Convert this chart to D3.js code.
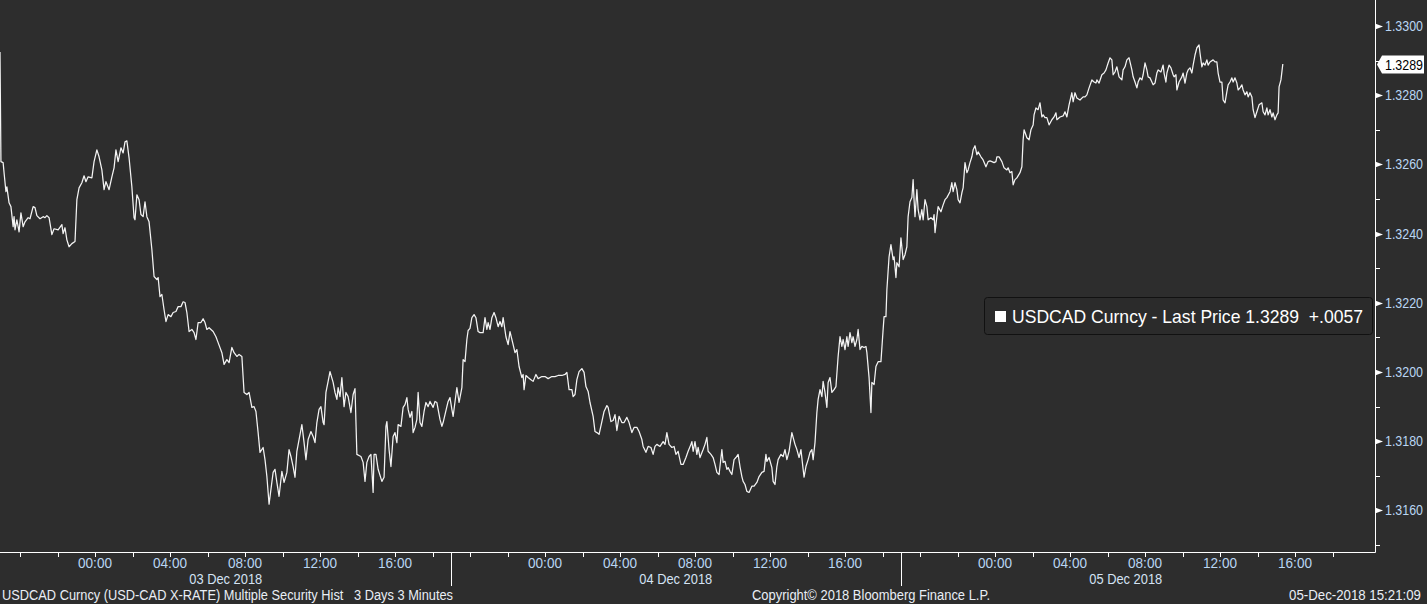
<!DOCTYPE html>
<html><head><meta charset="utf-8">
<script src="https://cdn.jsdelivr.net/npm/d3@7"></script>
<style>html,body{margin:0;padding:0;background:#2d2d2d;overflow:hidden}</style>
</head><body><svg id="c" width="1427" height="604"></svg>
<script>
// [minutes from 03 Dec 2018 00:00, USDCAD last price] — 3-minute bars
const dec3Session = [
[-304,1.32925],[-301,1.32608],[-294,1.32605],[-291,1.32576],[-285,1.32521],[-282,1.32535],[-275,1.32489],[-269,1.32478],
[-262,1.32420],[-259,1.32449],[-256,1.32411],[-250,1.32440],[-243,1.32405],[-237,1.32460],[-230,1.32420],[-224,1.32434],
[-214,1.32446],[-208,1.32443],[-198,1.32478],[-192,1.32475],[-186,1.32452],[-176,1.32443],[-166,1.32449],[-160,1.32446],
[-154,1.32452],[-147,1.32446],[-138,1.32397],[-131,1.32414],[-118,1.32411],[-106,1.32426],[-102,1.32400],[-96,1.32417],
[-90,1.32382],[-83,1.32362],[-74,1.32371],[-64,1.32377],[-58,1.32498],[-51,1.32532],[-42,1.32547],[-35,1.32567],
[-29,1.32550],[-22,1.32564],[-10,1.32561],[-3,1.32608],[6,1.32642],[13,1.32622],[22,1.32584],[29,1.32527],
[35,1.32550],[45,1.32527],[54,1.32564],[61,1.32590],[67,1.32642],[74,1.32608],[83,1.32648],[90,1.32633],
[96,1.32665],[102,1.32668],[109,1.32619],[118,1.32535],[125,1.32446],[128,1.32440],[134,1.32512],[141,1.32498],
[147,1.32455],[154,1.32449],[160,1.32492],[166,1.32449],[173,1.32434],[182,1.32354],[189,1.32276],[198,1.32267],
[202,1.32273],[208,1.32218],[214,1.32224],[221,1.32180],[227,1.32146],[234,1.32166],[243,1.32160],[250,1.32172],
[259,1.32175],[266,1.32189],[275,1.32189],[282,1.32203],[288,1.32201],[294,1.32172],[301,1.32117],[310,1.32123],
[317,1.32114],[323,1.32094],[330,1.32143],[339,1.32143],[346,1.32154],[352,1.32143],[358,1.32123],[365,1.32128],
[378,1.32117],[387,1.32102],[394,1.32085],[406,1.32056],[413,1.32022],[422,1.32036],[429,1.32027],[438,1.32071],
[445,1.32056],[454,1.32045],[461,1.32051],[470,1.32045],[477,1.31941],[486,1.31935],[493,1.31941],[502,1.31898],
[509,1.31900],[515,1.31886],[522,1.31825],[528,1.31768],[538,1.31782],[544,1.31747],[550,1.31698],[557,1.31618],
[563,1.31661],[570,1.31710],[576,1.31719],[582,1.31681],[589,1.31641],[598,1.31713],[605,1.31681],[614,1.31710],
[621,1.31776],[627,1.31756],[634,1.31727],[640,1.31696],[646,1.31771],[653,1.31805],[662,1.31848],[669,1.31796],
[675,1.31747],[682,1.31805],[691,1.31828],[698,1.31814],[704,1.31796],[710,1.31854],[717,1.31892],[723,1.31900],
[730,1.31854],[733,1.31848],[739,1.31941],[746,1.31973],[752,1.32001],[762,1.31970],[768,1.31941],[774,1.31921],
[778,1.31955],[784,1.31929],[790,1.31984],[797,1.31900],[803,1.31941],[810,1.31929],[819,1.31883],[826,1.31935],
[832,1.31952],[838,1.31762],[851,1.31756],[858,1.31739],[864,1.31684],[870,1.31739],[877,1.31756],[883,1.31762],
[890,1.31652],[893,1.31762],[899,1.31762],[906,1.31719],[918,1.31684],[925,1.31696],[931,1.31843],[934,1.31857],
[941,1.31776],[947,1.31727],[954,1.31814],[960,1.31825],[966,1.31796],[970,1.31848],[979,1.31843],[986,1.31898],
[992,1.31906],[998,1.31926],[1002,1.31892],[1008,1.31869],[1014,1.31886],[1018,1.31825],[1024,1.31840],[1030,1.31863],
[1034,1.31941],[1040,1.31854],[1046,1.31843],[1053,1.31886],[1059,1.31912],[1066,1.31900],[1072,1.31915],[1082,1.31898],
[1088,1.31915],[1094,1.31912],[1098,1.31892],[1104,1.31863],[1110,1.31843],[1114,1.31854],[1120,1.31877],[1126,1.31900],
[1130,1.31915],[1136,1.31926],[1142,1.31892],[1146,1.31872]
];
const dec4Session = [
[1155,1.31935],[1158,1.31955],[1165,1.31912],[1174,1.31955],[1178,1.32036],[1184,1.32030],[1190,1.32094],[1194,1.32120],
[1200,1.32126],[1206,1.32157],[1213,1.32166],[1219,1.32157],[1226,1.32117],[1232,1.32114],[1242,1.32114],[1248,1.32157],
[1254,1.32123],[1258,1.32143],[1264,1.32123],[1270,1.32157],[1277,1.32172],[1283,1.32157],[1290,1.32131],[1296,1.32146],
[1302,1.32131],[1306,1.32157],[1315,1.32102],[1322,1.32079],[1328,1.32117],[1338,1.32079],[1344,1.32056],[1350,1.32065],
[1357,1.32016],[1366,1.31984],[1370,1.31993],[1373,1.31949],[1379,1.31990],[1386,1.31984],[1395,1.31978],[1402,1.31973],
[1411,1.31993],[1418,1.31981],[1430,1.31987],[1440,1.31987],[1450,1.31981],[1462,1.31987],[1472,1.31987],[1482,1.31990],
[1494,1.31990],[1504,1.31993],[1510,1.31999],[1517,1.31949],[1526,1.31949],[1530,1.31929],[1536,1.31935],[1542,1.31978],
[1549,1.32001],[1558,1.32010],[1565,1.31999],[1571,1.31958],[1578,1.31944],[1584,1.31912],[1594,1.31872],[1600,1.31828],
[1606,1.31825],[1613,1.31820],[1622,1.31857],[1629,1.31886],[1638,1.31903],[1642,1.31898],[1651,1.31857],[1658,1.31860],
[1664,1.31877],[1670,1.31831],[1677,1.31872],[1686,1.31854],[1693,1.31854],[1702,1.31869],[1709,1.31854],[1718,1.31825],
[1725,1.31840],[1734,1.31840],[1741,1.31828],[1750,1.31805],[1754,1.31785],[1763,1.31768],[1770,1.31785],[1779,1.31782],
[1786,1.31762],[1792,1.31785],[1798,1.31791],[1808,1.31785],[1818,1.31799],[1824,1.31791],[1830,1.31825],[1837,1.31791],
[1846,1.31782],[1853,1.31785],[1859,1.31762],[1866,1.31771],[1875,1.31733],[1882,1.31733],[1891,1.31753],[1898,1.31771],
[1907,1.31791],[1910,1.31799],[1914,1.31771],[1920,1.31799],[1926,1.31762],[1930,1.31782],[1936,1.31753],[1946,1.31776],
[1952,1.31791],[1958,1.31811],[1962,1.31771],[1971,1.31762],[1978,1.31753],[1984,1.31733],[1990,1.31710],[1997,1.31704],
[2006,1.31776],[2010,1.31739],[2016,1.31742],[2022,1.31719],[2026,1.31724],[2032,1.31713],[2038,1.31704],[2045,1.31747],
[2051,1.31753],[2058,1.31762],[2064,1.31727],[2070,1.31698],[2074,1.31684],[2080,1.31675],[2086,1.31655],[2093,1.31652],
[2102,1.31670],[2109,1.31670],[2118,1.31681],[2125,1.31698],[2134,1.31710],[2141,1.31713],[2147,1.31762],[2150,1.31742],
[2157,1.31753],[2166,1.31724],[2170,1.31684],[2176,1.31675],[2182,1.31727],[2186,1.31747],[2195,1.31762],[2202,1.31756],
[2208,1.31776],[2214,1.31747],[2221,1.31771],[2230,1.31825],[2234,1.31811],[2240,1.31791],[2246,1.31776],[2253,1.31753],
[2259,1.31776],[2266,1.31719],[2269,1.31696],[2275,1.31727],[2282,1.31747],[2288,1.31768],[2294,1.31776],[2298,1.31747],
[2304,1.31796],[2310,1.31883],[2314,1.31921],[2320,1.31949],[2326,1.31929],[2330,1.31973],[2336,1.31941],[2342,1.31898],
[2346,1.31970],[2352,1.31984],[2358,1.31941],[2365,1.31949],[2371,1.31958],[2378,1.32045],[2384,1.32102],[2390,1.32074],
[2394,1.32094],[2400,1.32065],[2406,1.32102],[2410,1.32074],[2416,1.32114],[2422,1.32085],[2426,1.32102],[2432,1.32074],
[2438,1.32094],[2442,1.32123],[2448,1.32065],[2454,1.32074],[2461,1.32071],[2467,1.32074],[2470,1.32056],[2477,1.31984],
[2483,1.31883],[2486,1.31970],[2493,1.31964],[2499,1.32016],[2506,1.32030],[2515,1.32030],[2522,1.32123],[2525,1.32160],
[2531,1.32160],[2534,1.32238],[2541,1.32333],[2547,1.32368],[2554,1.32325],[2557,1.32333],[2563,1.32273],[2566,1.32316],
[2573,1.32304],[2579,1.32388]
];
const dec5Session = [
[2586,1.32325],[2592,1.32339],[2598,1.32362],[2602,1.32449],[2608,1.32492],[2614,1.32504],[2618,1.32556],[2621,1.32498],
[2624,1.32449],[2630,1.32527],[2634,1.32469],[2640,1.32440],[2646,1.32469],[2650,1.32440],[2656,1.32498],[2662,1.32478],
[2666,1.32440],[2675,1.32446],[2682,1.32440],[2685,1.32455],[2688,1.32403],[2694,1.32449],[2698,1.32478],[2707,1.32463],
[2714,1.32483],[2720,1.32498],[2726,1.32504],[2736,1.32521],[2742,1.32547],[2746,1.32521],[2752,1.32547],[2758,1.32527],
[2762,1.32498],[2768,1.32489],[2774,1.32518],[2778,1.32532],[2784,1.32605],[2790,1.32576],[2794,1.32584],[2800,1.32605],
[2806,1.32622],[2810,1.32642],[2816,1.32654],[2822,1.32628],[2826,1.32636],[2835,1.32622],[2842,1.32613],[2851,1.32593],
[2858,1.32608],[2864,1.32610],[2870,1.32608],[2877,1.32605],[2883,1.32608],[2886,1.32622],[2893,1.32622],[2902,1.32608],
[2909,1.32590],[2918,1.32584],[2922,1.32590],[2928,1.32576],[2934,1.32579],[2938,1.32541],[2944,1.32556],[2950,1.32561],
[2960,1.32576],[2966,1.32593],[2970,1.32671],[2973,1.32700],[2979,1.32685],[2982,1.32677],[2989,1.32671],[2995,1.32700],
[3002,1.32714],[3005,1.32743],[3011,1.32763],[3018,1.32758],[3024,1.32778],[3030,1.32737],[3034,1.32743],[3040,1.32735],
[3046,1.32735],[3053,1.32714],[3062,1.32729],[3069,1.32737],[3075,1.32749],[3078,1.32729],[3088,1.32737],[3098,1.32740],
[3104,1.32752],[3110,1.32737],[3117,1.32772],[3126,1.32807],[3130,1.32781],[3136,1.32807],[3142,1.32792],[3152,1.32786],
[3162,1.32795],[3168,1.32795],[3174,1.32801],[3181,1.32821],[3190,1.32844],[3197,1.32838],[3203,1.32835],[3206,1.32844],
[3213,1.32835],[3222,1.32859],[3229,1.32864],[3235,1.32873],[3242,1.32893],[3248,1.32908],[3254,1.32902],[3258,1.32859],
[3264,1.32867],[3270,1.32882],[3277,1.32853],[3286,1.32844],[3290,1.32873],[3296,1.32882],[3302,1.32902],[3309,1.32908],
[3318,1.32873],[3322,1.32853],[3328,1.32838],[3334,1.32821],[3338,1.32838],[3344,1.32850],[3350,1.32844],[3354,1.32859],
[3360,1.32893],[3366,1.32873],[3370,1.32853],[3376,1.32850],[3382,1.32838],[3386,1.32830],[3392,1.32835],[3398,1.32864],
[3402,1.32873],[3411,1.32867],[3418,1.32887],[3421,1.32864],[3427,1.32838],[3430,1.32864],[3437,1.32887],[3443,1.32879],
[3450,1.32859],[3453,1.32853],[3459,1.32859],[3462,1.32815],[3469,1.32838],[3478,1.32853],[3482,1.32864],[3488,1.32835],
[3494,1.32864],[3498,1.32873],[3504,1.32879],[3510,1.32864],[3514,1.32887],[3520,1.32916],[3526,1.32937],[3533,1.32945],
[3536,1.32922],[3542,1.32882],[3546,1.32893],[3552,1.32887],[3558,1.32902],[3562,1.32887],[3568,1.32896],[3578,1.32902],
[3584,1.32896],[3590,1.32896],[3594,1.32864],[3600,1.32838],[3606,1.32838],[3610,1.32786],[3616,1.32778],[3622,1.32810],
[3626,1.32830],[3632,1.32838],[3638,1.32850],[3642,1.32838],[3648,1.32850],[3654,1.32835],[3658,1.32815],[3664,1.32821],
[3670,1.32830],[3674,1.32815],[3680,1.32801],[3686,1.32810],[3690,1.32795],[3696,1.32807],[3702,1.32795],[3706,1.32758],
[3712,1.32735],[3718,1.32752],[3725,1.32772],[3734,1.32778],[3738,1.32752],[3744,1.32743],[3750,1.32763],[3754,1.32743],
[3760,1.32758],[3766,1.32737],[3770,1.32749],[3776,1.32729],[3782,1.32743],[3786,1.32749],[3789,1.32824],[3795,1.32844],
[3801,1.32890]
];

const priceTicks = [1.3160, 1.3180, 1.3200, 1.3220, 1.3240, 1.3260, 1.3280, 1.3300];
const minorPriceTicks = [1.3150, 1.3170, 1.3190, 1.3210, 1.3230, 1.3250, 1.3270, 1.3290];
const timeTickHours = [0, 4, 8, 12, 16];
const dayLabels = ["03 Dec 2018", "04 Dec 2018", "05 Dec 2018"];
const dayStarts = ["2018-12-03", "2018-12-04", "2018-12-05"];
const sessionBreaks = ["2018-12-02T19:00Z", "2018-12-03T19:00Z", "2018-12-04T19:00Z", "2018-12-05T19:00Z"];
const lastPrice = 1.3289;
const netChange = "+.0057";
const seriesName = "USDCAD Curncy - Last Price";
const footerLeft = "USDCAD Curncy (USD-CAD X-RATE) Multiple Security Hist   3 Days 3 Minutes";
const footerMid = "Copyright\u00A9 2018 Bloomberg Finance L.P.";
const footerRight = "05-Dec-2018 15:21:09";

const base = Date.UTC(2018, 11, 3);
const toDate = m => new Date(base + m * 60000);
const data = dec3Session.concat(dec4Session, dec5Session).map(d => ({t: toDate(d[0]), v: d[1]}));

const W = 1427, H = 604, plotR = 1375, plotB = 552;
const x = d3.scaleUtc().domain([new Date("2018-12-02T18:56Z"), new Date("2018-12-05T20:16Z")]).range([0, plotR]);
const y = d3.scaleLinear().domain([1.3148, 1.33075]).range([plotB, 0]);

const svg = d3.select("#c");
svg.append("rect").attr("width", W).attr("height", H).attr("fill", "#2d2d2d");

const font = "'Liberation Sans', Arial, sans-serif";
const axisCol = "#b9d5f3";
const txtCol = "#e9eef5";

svg.append("clipPath").attr("id", "clip").append("rect").attr("x", 0).attr("y", 0).attr("width", plotR).attr("height", plotB);

// price line
const line = d3.line().x(d => x(d.t)).y(d => y(d.v));
svg.append("path").datum(data).attr("clip-path", "url(#clip)")
  .attr("d", line).attr("fill", "none").attr("stroke", "#f4f4f4").attr("stroke-width", 1.25).attr("stroke-linejoin", "round");

// axes lines
svg.append("line").attr("x1", plotR + 0.5).attr("x2", plotR + 0.5).attr("y1", 0).attr("y2", plotB + 0.5).attr("stroke", "#fff").attr("stroke-width", 1);
svg.append("line").attr("x1", 0).attr("x2", plotR + 0.5).attr("y1", plotB + 0.5).attr("y2", plotB + 0.5).attr("stroke", "#fff").attr("stroke-width", 1);

// y ticks
const yg = svg.append("g");
yg.selectAll("line.minor").data(minorPriceTicks).join("line")
  .attr("x1", plotR).attr("x2", plotR + 5)
  .attr("y1", d => Math.round(y(d)) + 0.5).attr("y2", d => Math.round(y(d)) + 0.5)
  .attr("stroke", "#fff");
yg.selectAll("path.major").data(priceTicks).join("path")
  .attr("d", d => { const yy = Math.round(y(d)) + 0.5; return `M${plotR},${yy - 3}L${plotR + 8},${yy}L${plotR},${yy + 3}Z`; })
  .attr("fill", "#fff");
yg.selectAll("text").data(priceTicks).join("text")
  .attr("x", plotR + 10).attr("y", d => y(d) + 5)
  .attr("font-family", font).attr("font-size", 14).attr("fill", axisCol)
  .attr("textLength", 38).attr("lengthAdjust", "spacingAndGlyphs")
  .text(d => d3.format(".4f")(d));

// last price marker
const ly = Math.round(y(lastPrice)) + 0.5;
svg.append("path")
  .attr("d", `M${plotR + 2},${ly}L${plotR + 7},${ly - 9}L${W - 3},${ly - 9}L${W - 3},${ly + 9}L${plotR + 7},${ly + 9}Z`)
  .attr("fill", "#fff");
svg.append("text").attr("x", plotR + 10).attr("y", ly + 5)
  .attr("font-family", font).attr("font-size", 14).attr("fill", "#000")
  .attr("textLength", 38).attr("lengthAdjust", "spacingAndGlyphs")
  .text(d3.format(".4f")(lastPrice));

// x ticks
const xg = svg.append("g");
const minorTimes = d3.utcHour.every(2).range(x.domain()[0], x.domain()[1]);
xg.selectAll("line.minor").data(minorTimes.filter(t => x(t) < plotR - 6)).join("line")
  .attr("x1", d => Math.round(x(d)) + 0.5).attr("x2", d => Math.round(x(d)) + 0.5)
  .attr("y1", plotB).attr("y2", plotB + 5).attr("stroke", "#fff");
const breaks = sessionBreaks.map(s => new Date(s)).filter(t => x(t) > 20 && x(t) < plotR - 30);
xg.selectAll("line.brk").data(breaks).join("line")
  .attr("x1", d => Math.round(x(d)) + 0.5).attr("x2", d => Math.round(x(d)) + 0.5)
  .attr("y1", plotB).attr("y2", plotB + 34).attr("stroke", "#fff");

const timeLabels = [];
dayStarts.forEach(ds => timeTickHours.forEach(h => timeLabels.push(d3.utcHour.offset(new Date(ds + "T00:00Z"), h))));
xg.selectAll("text.tl").data(timeLabels).join("text")
  .attr("x", d => x(d) - 17).attr("y", plotB + 15.5)
  .attr("font-family", font).attr("font-size", 14).attr("fill", axisCol)
  .attr("textLength", 34).attr("lengthAdjust", "spacingAndGlyphs")
  .text(d => d3.utcFormat("%H:%M")(d));
xg.selectAll("text.dl").data(dayLabels).join("text")
  .attr("x", (d, i) => (x(new Date(sessionBreaks[i])) + x(new Date(sessionBreaks[i + 1]))) / 2 - 37)
  .attr("y", plotB + 31.5)
  .attr("font-family", font).attr("font-size", 14).attr("fill", "#d4e3f4")
  .attr("textLength", 73).attr("lengthAdjust", "spacingAndGlyphs")
  .text(d => d);

// legend
const lg = svg.append("g");
lg.append("rect").attr("x", 984.5).attr("y", 297.5).attr("width", 388).attr("height", 37).attr("rx", 3)
  .attr("fill", "#2b2b2b").attr("stroke", "#111").attr("stroke-width", 1);
lg.append("rect").attr("x", 995).attr("y", 311).attr("width", 11).attr("height", 11).attr("fill", "#fff");
lg.append("text").attr("x", 1012).attr("y", 323).attr("font-family", font).attr("font-size", 19).attr("fill", "#fff")
  .attr("xml:space", "preserve").attr("textLength", 351).attr("lengthAdjust", "spacingAndGlyphs")
  .text(`${seriesName} ${d3.format(".4f")(lastPrice)}  ${netChange}`);

// footer
svg.append("text").attr("x", 2).attr("y", 600).attr("font-family", font).attr("font-size", 14).attr("fill", txtCol)
  .attr("xml:space", "preserve").attr("textLength", 451).attr("lengthAdjust", "spacingAndGlyphs").text(footerLeft);
svg.append("text").attr("x", 752).attr("y", 600).attr("font-family", font).attr("font-size", 14).attr("fill", txtCol)
  .attr("textLength", 238).attr("lengthAdjust", "spacingAndGlyphs").text(footerMid);
svg.append("text").attr("x", 1289).attr("y", 600).attr("font-family", font).attr("font-size", 14).attr("fill", txtCol)
  .attr("textLength", 132).attr("lengthAdjust", "spacingAndGlyphs").text(footerRight);
</script>
</body></html>
